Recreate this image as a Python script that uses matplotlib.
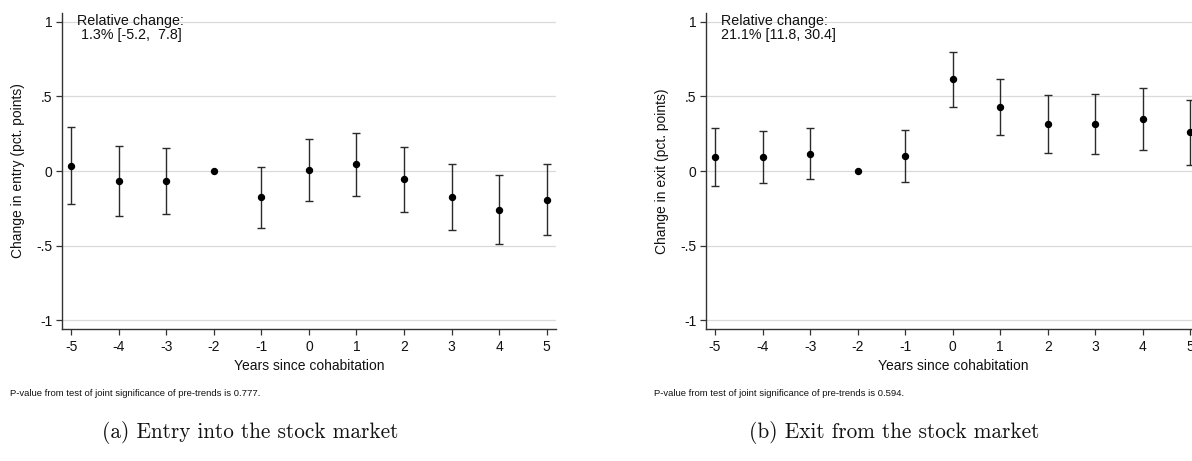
import numpy as np
import matplotlib
matplotlib.use("Agg")
import matplotlib.pyplot as plt

plt.rcParams['font.family'] = ['Liberation Sans', 'DejaVu Sans']

years = [-5, -4, -3, -2, -1, 0, 1, 2, 3, 4, 5]
year_labels = ["-5", "-4", "-3", "-2", "-1", "0", "1", "2", "3", "4", "5"]
ytick_values = [-1, -0.5, 0, 0.5, 1]
ytick_labels = ["-1", "-.5", "0", ".5", "1"]

# Entry into the stock market (reference year -2 normalised to zero)
entry_coef = [0.033, -0.067, -0.067, 0.0, -0.174, 0.007, 0.045, -0.056, -0.174, -0.261, -0.194]
entry_low = [-0.221, -0.299, -0.288, np.nan, -0.379, -0.199, -0.167, -0.274, -0.397, -0.491, -0.430]
entry_high = [0.292, 0.165, 0.156, np.nan, 0.029, 0.216, 0.256, 0.163, 0.049, -0.029, 0.045]

# Exit from the stock market
exit_coef = [0.092, 0.094, 0.116, 0.0, 0.098, 0.614, 0.430, 0.315, 0.317, 0.348, 0.259]
exit_low = [-0.100, -0.083, -0.056, np.nan, -0.076, 0.428, 0.241, 0.120, 0.116, 0.141, 0.042]
exit_high = [0.286, 0.270, 0.290, np.nan, 0.272, 0.797, 0.618, 0.509, 0.518, 0.556, 0.477]

panels = [
    dict(coef=entry_coef, low=entry_low, high=entry_high,
         ylabel="Change in entry (pct. points)",
         rel=["Relative change:", " 1.3% [-5.2,  7.8]"],
         pval="P-value from test of joint significance of pre-trends is 0.777.",
         caption="(a) Entry into the stock market"),
    dict(coef=exit_coef, low=exit_low, high=exit_high,
         ylabel="Change in exit (pct. points)",
         rel=["Relative change:", "21.1% [11.8, 30.4]"],
         pval="P-value from test of joint significance of pre-trends is 0.594.",
         caption="(b) Exit from the stock market"),
]

W, H = 1192, 461
fig = plt.figure(figsize=(W / 100, H / 100), dpi=100)

ax_left_px = [62.2, 706.0]
ax_w_px = 493.5
ax_top_px, ax_bot_px = 13.3, 328.7

for p, lpx in zip(panels, ax_left_px):
    ax = fig.add_axes([lpx / W, (H - ax_bot_px) / H, ax_w_px / W, (ax_bot_px - ax_top_px) / H])
    x = np.array(years, dtype=float)
    c = np.array(p["coef"])
    lo = np.array(p["low"])
    hi = np.array(p["high"])
    ok = np.isfinite(lo)
    ax.errorbar(x[ok], c[ok], yerr=[c[ok] - lo[ok], hi[ok] - c[ok]], fmt='none',
                ecolor='#2a2a2a', elinewidth=1.0, capsize=3.0, capthick=1.0, zorder=3)
    ax.plot(x, c, 'o', color='black', markersize=4.3, zorder=4)

    ax.set_xlim(-5.19, 5.19)
    ax.set_ylim(-1.056, 1.056)
    ax.set_xticks(years)
    ax.set_xticklabels(year_labels)
    ax.set_yticks(ytick_values)
    ax.set_yticklabels(ytick_labels)
    ax.yaxis.grid(True, color='#dadada', linewidth=0.9)
    ax.set_axisbelow(True)
    for s in ['top', 'right']:
        ax.spines[s].set_visible(False)
    for s in ['left', 'bottom']:
        ax.spines[s].set_color('#333333')
        ax.spines[s].set_linewidth(1.0)
    ax.tick_params(axis='both', direction='out', length=4, width=0.9, color='#333333',
                   labelsize=10, labelcolor='#111111')
    ax.tick_params(axis='x', pad=4)
    ax.tick_params(axis='y', pad=3)
    ax.set_xlabel("Years since cohabitation", fontsize=10, color='#111111', labelpad=4)
    ax.set_ylabel(p["ylabel"], fontsize=10, color='#111111', labelpad=8)

    ax.text(-4.87, 1.048, p["rel"][0] + "\n" + p["rel"][1], fontsize=10.3, va='top', ha='left',
            linespacing=0.95, color='#111111')

    fig.text((lpx - 52) / W, (H - 393) / H, p["pval"], fontsize=6.8, va='center', ha='left',
             color='#111111')
    fig.text((lpx + 188) / W, (H - 432) / H, p["caption"], fontsize=15.3, family='cmr10',
             va='center', ha='center', color='#111111')

fig.savefig("out.png", dpi=100, facecolor='white')
